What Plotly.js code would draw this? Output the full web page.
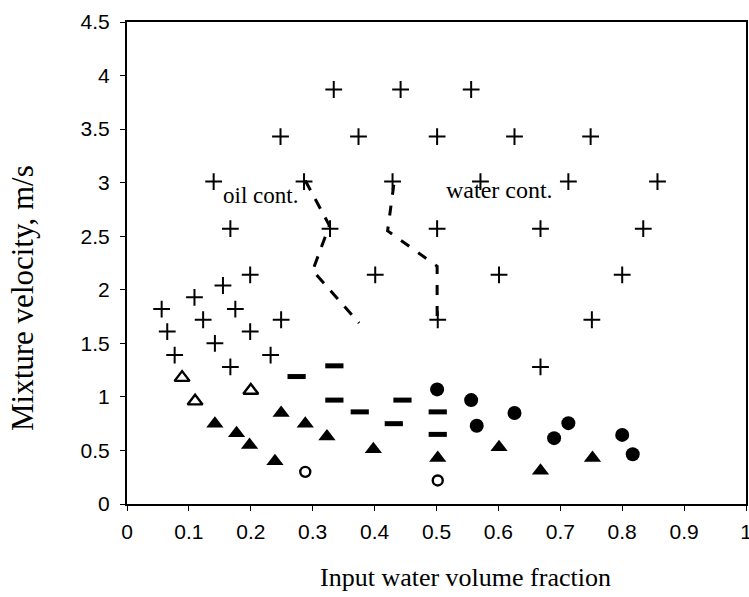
<!DOCTYPE html>
<html>
<head>
<meta charset="utf-8">
<script src="https://cdn.plot.ly/plotly-3.0.1.min.js"></script>
<style>html,body{margin:0;padding:0;background:#fff;}#chart{width:749px;height:597px;}</style>
</head>
<body>
<div id="chart"></div>
<script>
// Dispersed / stratified-type data points (plus markers)
const plusX = [0.334,0.442,0.556, 0.248,0.374,0.501,0.626,0.749, 0.140,0.286,0.429,0.571,0.713,0.857,
               0.167,0.328,0.501,0.668,0.834, 0.199,0.401,0.601,0.800, 0.155,0.109,0.056,0.175,
               0.123,0.249,0.502,0.751, 0.065,0.199,0.142,0.077,0.232,0.167,0.668];
const plusY = [3.87,3.87,3.87, 3.43,3.43,3.43,3.43,3.43, 3.01,3.01,3.01,3.01,3.01,3.01,
               2.57,2.57,2.57,2.57,2.57, 2.14,2.14,2.14,2.14, 2.04,1.93,1.82,1.82,
               1.72,1.72,1.72,1.72, 1.61,1.61,1.50,1.39,1.39,1.28,1.28];
// Open triangles
const openTriX = [0.089,0.200,0.110];
const openTriY = [1.18,1.06,0.96];
// Filled triangles
const triX = [0.142,0.177,0.198,0.239,0.249,0.288,0.323,0.398,0.502,0.601,0.668,0.752];
const triY = [0.75,0.66,0.55,0.40,0.85,0.75,0.63,0.51,0.43,0.53,0.31,0.43];
// Dash markers
const dashX = [0.274,0.335,0.335,0.376,0.431,0.445,0.502,0.502];
const dashY = [1.19,1.29,0.97,0.86,0.75,0.97,0.86,0.65];
// Filled circles
const dotX = [0.501,0.556,0.565,0.626,0.690,0.713,0.800,0.817];
const dotY = [1.07,0.97,0.73,0.85,0.615,0.755,0.645,0.465];
// Open circles
const ringX = [0.288,0.502];
const ringY = [0.30,0.22];
// Transition boundaries
const oilLineX = [0.288,0.327,0.300,0.375];
const oilLineY = [3.02,2.60,2.18,1.69];
const waterLineX = [0.431,0.421,0.501,0.501];
const waterLineY = [2.98,2.55,2.22,1.74];
// Axis ticks
const xTicks = [0,0.1,0.2,0.3,0.4,0.5,0.6,0.7,0.8,0.9,1];
const xTickText = ['0','0.1','0.2','0.3','0.4','0.5','0.6','0.7','0.8','0.9','1'];
const yTicks = [0,0.5,1,1.5,2,2.5,3,3.5,4,4.5];
const yTickText = ['0','0.5','1','1.5','2','2.5','3','3.5','4','4.5'];

const tickFont = {family:'"Liberation Sans Narrow", "Liberation Sans", Arial, sans-serif', size:21, color:'#000'};
const serif = '"Liberation Serif", "Times New Roman", serif';

const traces = [
  {x:oilLineX, y:oilLineY, mode:'lines', line:{color:'#000', width:3, dash:'11px,10px'}},
  {x:waterLineX, y:waterLineY, mode:'lines', line:{color:'#000', width:3, dash:'10px,11px'}},
  {x:plusX, y:plusY, mode:'markers', marker:{symbol:'cross-thin', size:12, line:{color:'#000', width:2}}},
  {x:openTriX, y:openTriY, mode:'markers', marker:{symbol:'triangle-up-open', size:13, color:'#000', line:{color:'#000', width:2.4}}},
  {x:triX, y:triY, mode:'markers', marker:{symbol:'triangle-up', size:15, color:'#000', line:{width:0}}},
  {x:dashX, y:dashY, mode:'markers', marker:{symbol:'line-ew', size:13, line:{color:'#000', width:5}}},
  {x:dotX, y:dotY, mode:'markers', marker:{symbol:'circle', size:14, color:'#000', line:{width:0}}},
  {x:ringX, y:ringY, mode:'markers', marker:{symbol:'circle-open', size:10, color:'#000', line:{color:'#000', width:2.4}}}
];

const layout = {
  width:749, height:597,
  margin:{l:127, r:3, t:22, b:93},
  paper_bgcolor:'#fff', plot_bgcolor:'#fff',
  showlegend:false, hovermode:false,
  xaxis:{range:[0,1], tickvals:xTicks, ticktext:xTickText, showgrid:false, zeroline:false,
         showline:true, linecolor:'#000', linewidth:2, mirror:true, ticklabeloverflow:'allow',
         ticks:'outside', ticklen:5, tickwidth:1, tickcolor:'#000', tickfont:tickFont, ticklabelstandoff:3},
  yaxis:{range:[0,4.5], tickvals:yTicks, ticktext:yTickText, showgrid:false, zeroline:false,
         showline:true, linecolor:'#000', linewidth:2, mirror:true,
         ticks:'outside', ticklen:5, tickwidth:1, tickcolor:'#000', tickfont:tickFont, ticklabelstandoff:6},
  annotations:[
    {text:'oil cont.', x:0.216, y:2.88, xref:'x', yref:'y', showarrow:false, font:{family:serif, size:23, color:'#000'}},
    {text:'water cont.', x:0.602, y:2.93, xref:'x', yref:'y', showarrow:false, font:{family:serif, size:24, color:'#000'}},
    {text:'Input water volume fraction', x:465, y:577, xref:'paper', yref:'paper', showarrow:false,
     font:{family:serif, size:26, color:'#000'}},
    {text:'Mixture velocity, m/s', x:22, y:298, xref:'paper', yref:'paper', showarrow:false, textangle:-90,
     font:{family:serif, size:31, color:'#000'}}
  ]
};
// convert pixel positions of the axis-title annotations to paper coords
const pw = 749-127-3, ph = 597-22-93;
layout.annotations[2].x = (465-127)/pw; layout.annotations[2].y = (597-93-577)/ph;
layout.annotations[3].x = (22-127)/pw; layout.annotations[3].y = (597-93-298)/ph;
layout.annotations[2].yanchor='middle'; layout.annotations[3].xanchor='center';

Plotly.newPlot('chart', traces, layout, {staticPlot:true, displayModeBar:false});
</script>
</body>
</html>
